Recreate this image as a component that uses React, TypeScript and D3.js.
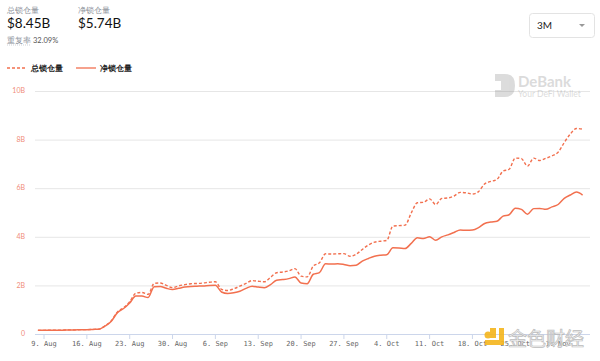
import React from "react";
import * as d3 from "d3";

const startDate = "2020-08-08";
const totalTvl = [
  0.17, 0.17, 0.18, 0.18, 0.18, 0.19, 0.19, 0.2, 0.2, 0.21,
  0.22, 0.36, 0.57, 0.93, 1.1, 1.35, 1.7, 1.73, 1.65, 2.1,
  2.12, 2.02, 1.93, 2.0, 2.05, 2.09, 2.1, 2.12, 2.15, 2.17,
  1.86, 1.81, 1.88, 1.99, 2.1, 2.22, 2.19, 2.17, 2.35, 2.54,
  2.57, 2.62, 2.71, 2.4, 2.37, 2.82, 2.95, 3.32, 3.31, 3.32,
  3.33, 3.22, 3.3, 3.5, 3.68, 3.8, 3.84, 3.87, 4.46, 4.48,
  4.5, 5.0, 5.42, 5.44, 5.58, 5.35, 5.6, 5.62, 5.7, 5.85,
  5.83, 5.78, 5.88, 6.2, 6.3, 6.38, 6.72, 6.8, 7.26, 7.24,
  6.93, 7.26, 7.16, 7.25, 7.35, 7.5, 7.9, 8.25, 8.48, 8.45,
];
const netTvl = [
  0.17, 0.17, 0.18, 0.18, 0.18, 0.19, 0.19, 0.2, 0.2, 0.21,
  0.22, 0.35, 0.55, 0.9, 1.07, 1.3, 1.58, 1.58, 1.52, 1.97,
  1.98, 1.9, 1.85, 1.9, 1.95, 1.98, 1.99, 2.0, 2.02, 2.03,
  1.75, 1.69, 1.72, 1.78, 1.9, 1.99, 1.95, 1.92, 2.05, 2.23,
  2.26, 2.3, 2.37, 2.12, 2.09, 2.48, 2.55, 2.91, 2.9, 2.91,
  2.88, 2.83, 2.85, 3.02, 3.13, 3.22, 3.26, 3.28, 3.57, 3.56,
  3.54, 3.75, 3.98, 3.95, 4.02, 3.88, 4.02, 4.1, 4.2, 4.3,
  4.29, 4.3, 4.4, 4.57, 4.63, 4.66, 4.87, 4.93, 5.2, 5.15,
  4.95, 5.18, 5.19, 5.15, 5.25, 5.35, 5.6, 5.74, 5.86, 5.74,
];
const yTicks = [0, 2, 4, 6, 8, 10];
const yTickLabels = ["0", "2B", "4B", "6B", "8B", "10B"];
const seriesNames = ["总锁仓量", "净锁仓量"];
const headerValues = ["$8.45B", "$5.74B"];
const overlapLabel = "重复率";
const overlapValue = "32.09%";
const rangeLabel = "3M";

const W = 600;
const H = 361;
const LINE = "#f2704f";

export default function App() {
  const parse = d3.utcParse("%Y-%m-%d");
  const d0 = parse(startDate) as Date;
  const dates = totalTvl.map((_, i) => d3.utcDay.offset(d0, i));
  const dEnd = dates[dates.length - 1];

  const x = d3.scaleUtc().domain([d0, dEnd]).range([37.9, 582.6]);
  const y = d3.scaleLinear().domain([0, 10]).range([334.5, 91.5]);

  const lineGen = d3
    .line<number>()
    .x((_, i) => x(dates[i]))
    .y((v) => y(v))
    .curve(d3.curveMonotoneX);

  const xTicks = d3.utcDay
    .range(parse("2020-08-09") as Date, d3.utcDay.offset(dEnd, 1))
    .filter((d) => d.getUTCDay() === 0);
  const fmt = d3.utcFormat("%-d. %b");

  const font = "Lato, 'Open Sans', sans-serif";

  return (
    <svg
      width={W}
      height={H}
      style={{ position: "absolute", left: 0, top: 0, background: "#fff" }}
      fontFamily={font}
    >
      {/* header */}
      <text x={7} y={13} fontSize={8} fill="#8a8f99">{seriesNames[0]}</text>
      <text x={7} y={28} fontSize={13.5} fill="#111">{headerValues[0]}</text>
      <text x={78} y={13} fontSize={8} fill="#8a8f99">{seriesNames[1]}</text>
      <text x={78} y={28} fontSize={13.5} fill="#111">{headerValues[1]}</text>
      <text x={7} y={43} fontSize={8} fill="#8a8f99">{overlapLabel}</text>
      <line x1={7} x2={30} y1={45} y2={45} stroke="#b8bcc4" strokeWidth={0.7} strokeDasharray="1,1" />
      <text x={33} y={43} fontSize={7.5} fill="#555">{overlapValue}</text>

      {/* dropdown */}
      <rect x={529.5} y={13.5} width={65} height={24} rx={3} fill="#fff" stroke="#e3e3e3" />
      <text x={537} y={29} fontSize={10} fill="#222">{rangeLabel}</text>
      <path d="M579,24 L585,24 L582,27 Z" fill="#999" />

      {/* legend */}
      <line x1={7} x2={25} y1={68} y2={68} stroke={LINE} strokeWidth={1.3} strokeDasharray="3,2" />
      <text x={31} y={71} fontSize={8} fontWeight="bold" fill="#222">{seriesNames[0]}</text>
      <line x1={76} x2={96} y1={68} y2={68} stroke={LINE} strokeWidth={1.3} />
      <text x={100} y={71} fontSize={8} fontWeight="bold" fill="#222">{seriesNames[1]}</text>

      {/* grid + y labels */}
      {yTicks.map((t) =>
        t === 0 ? null : (
          <line key={"g" + t} x1={35} x2={590} y1={y(t)} y2={y(t)} stroke="#e6e6e6" strokeWidth={1} />
        )
      )}
      {yTicks.map((t, i) => (
        <text
          key={"yl" + t}
          x={25}
          y={y(t)}
          textAnchor="end"
          dominantBaseline="middle"
          fontSize={7}
          fill="#f08c7a"
        >
          {yTickLabels[i]}
        </text>
      ))}

      {/* DeBank watermark */}
      <g opacity={0.3}>
        <path d="M495,74 L505,74 Q515,74 515,85.5 Q515,97 505,97 L495,97 L495,90 L501,90 L501,81 L495,81 Z" fill="#8a8a8a" />
        <text x={518} y={87} fontSize={15} fontWeight="bold" fill="#8a8a8a">DeBank</text>
        <text x={518} y={97} fontSize={8.5} fill="#8a8a8a">Your DeFi Wallet</text>
      </g>

      {/* x axis */}
      <line x1={35} x2={590} y1={334.5} y2={334.5} stroke="#ccd6eb" strokeWidth={1} />
      {xTicks.map((d) => (
        <g key={d.toISOString()}>
          <line x1={x(d)} x2={x(d)} y1={334.5} y2={339} stroke="#ccd6eb" />
          <text
            x={x(d)}
            y={346}
            textAnchor="middle"
            fontSize={7}
            fontFamily="'DejaVu Sans Mono', monospace"
            fill="#666"
          >
            {fmt(d)}
          </text>
        </g>
      ))}

      {/* lines */}
      <path d={lineGen(totalTvl) || ""} fill="none" stroke={LINE} strokeWidth={1.4} strokeDasharray="3,2" />
      <path d={lineGen(netTvl) || ""} fill="none" stroke={LINE} strokeWidth={1.5} />

      {/* Jinse watermark */}
      <g opacity={0.9}>
        <rect x={490} y={328} width={6} height={10} fill="#f5b51c" />
        <path d="M499,328 L504,328 L504,345 L485,345 L485,340 L499,340 Z" fill="#f5b51c" />
        <circle cx={488} cy={335} r={3.5} fill="#f5b51c" />
        <text
          x={508}
          y={346}
          fontSize={19}
          fontFamily="'Noto Sans CJK SC', sans-serif"
          fill="#f2f2f2"
          stroke="#b5b5b5"
          strokeWidth={0.7}
        >
          金色财经
        </text>
      </g>
    </svg>
  );
}
